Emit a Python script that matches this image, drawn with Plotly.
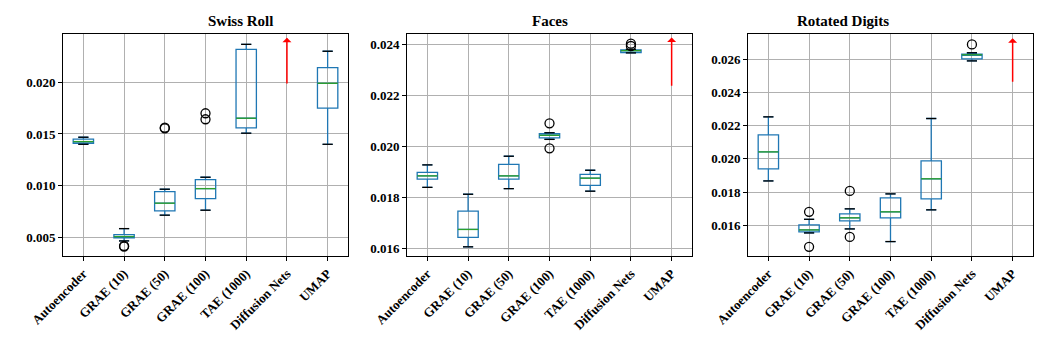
import plotly.graph_objects as go

categories = ["Autoencoder", "GRAE (10)", "GRAE (50)", "GRAE (100)",
              "TAE (1000)", "Diffusion Nets", "UMAP"]

# Swiss Roll (Diffusion Nets off the chart -> arrow)
swiss_lower = [0.01400, 0.00465, 0.00714, 0.00762, 0.01507, None, 0.01400]
swiss_q1 = [0.01410, 0.00494, 0.00755, 0.00874, 0.01558, None, 0.01749]
swiss_median = [0.01426, 0.00507, 0.00830, 0.00971, 0.01652, None, 0.01990]
swiss_q3 = [0.01449, 0.00526, 0.00942, 0.01058, 0.02319, None, 0.02141]
swiss_upper = [0.01468, 0.00584, 0.00965, 0.01081, 0.02367, None, 0.02300]
swiss_out_cat = ["GRAE (10)", "GRAE (10)", "GRAE (50)", "GRAE (50)", "GRAE (100)", "GRAE (100)"]
swiss_out_val = [0.00410, 0.00416, 0.01561, 0.01554, 0.01700, 0.01642]
swiss_arrow = ["Diffusion Nets", 0.01974, 0.02431]

# Faces (UMAP off the chart)
faces_lower = [0.01839, 0.01606, 0.01834, 0.02027, 0.01824, 0.02366, None]
faces_q1 = [0.01871, 0.01643, 0.01871, 0.02033, 0.01847, 0.02367, None]
faces_median = [0.01884, 0.01674, 0.01884, 0.02043, 0.01875, 0.02375, None]
faces_q3 = [0.01898, 0.01746, 0.01929, 0.02049, 0.01890, 0.02378, None]
faces_upper = [0.01927, 0.01812, 0.01961, 0.02053, 0.01906, 0.02380, None]
faces_out_cat = ["GRAE (100)", "GRAE (100)", "Diffusion Nets", "Diffusion Nets"]
faces_out_val = [0.02090, 0.01992, 0.02402, 0.02393]
faces_arrow = ["UMAP", 0.02231, 0.02426]

# Rotated Digits (UMAP off the chart)
rot_lower = [0.01867, 0.01554, 0.01578, 0.01502, 0.01693, 0.02590, None]
rot_q1 = [0.01940, 0.01560, 0.01627, 0.01645, 0.01759, 0.02602, None]
rot_median = [0.02042, 0.01572, 0.01645, 0.01681, 0.01880, 0.02627, None]
rot_q3 = [0.02145, 0.01602, 0.01669, 0.01765, 0.01988, 0.02630, None]
rot_upper = [0.02253, 0.01636, 0.01699, 0.01789, 0.02243, 0.02639, None]
rot_out_cat = ["GRAE (10)", "GRAE (10)", "GRAE (50)", "GRAE (50)", "Diffusion Nets"]
rot_out_val = [0.01681, 0.01470, 0.01807, 0.01530, 0.02689]
rot_arrow = ["UMAP", 0.02455, 0.02726]

panels = [
    ("Swiss Roll", swiss_lower, swiss_q1, swiss_median, swiss_q3, swiss_upper,
     swiss_out_cat, swiss_out_val, swiss_arrow, [0.00319, 0.02467], 0.005),
    ("Faces", faces_lower, faces_q1, faces_median, faces_q3, faces_upper,
     faces_out_cat, faces_out_val, faces_arrow, [0.0157, 0.02440], 0.002),
    ("Rotated Digits", rot_lower, rot_q1, rot_median, rot_q3, rot_upper,
     rot_out_cat, rot_out_val, rot_arrow, [0.01415, 0.02752], 0.002),
]

W, H = 1050, 350
OFF = 8  # page body margin
x_domains = [(63 - OFF, 348 - OFF), (407 - OFF, 692 - OFF), (748 - OFF, 1033 - OFF)]
y_top, y_bot = 34 - OFF, 256 - OFF

FONT = "Liberation Serif, Times New Roman, serif"
BLUE = "#1f77b4"
GREEN = "#2ca02c"

fig = go.Figure()
pos = {c: i + 1 for i, c in enumerate(categories)}

for k, (title, lo, q1, med, q3, up, ocat, oval, arrow, yrange, dtick) in enumerate(panels):
    xa = "x" if k == 0 else f"x{k + 1}"
    ya = "y" if k == 0 else f"y{k + 1}"
    idx = [i for i in range(len(categories)) if med[i] is not None]
    xs = [i + 1 for i in idx]

    fig.add_trace(go.Box(
        x=xs, q1=[q1[i] for i in idx], median=[med[i] for i in idx],
        q3=[q3[i] for i in idx], lowerfence=[lo[i] for i in idx],
        upperfence=[up[i] for i in idx], boxpoints=False, width=0.5,
        whiskerwidth=0.5, line=dict(color=BLUE, width=1.3),
        fillcolor="rgba(0,0,0,0)", xaxis=xa, yaxis=ya, showlegend=False,
        hoverinfo="skip"))

    # green medians, black caps
    mx, my, cx, cy = [], [], [], []
    for i in idx:
        p = i + 1
        mx += [p - 0.25, p + 0.25, None]
        my += [med[i], med[i], None]
        for v in (lo[i], up[i]):
            cx += [p - 0.125, p + 0.125, None]
            cy += [v, v, None]
    fig.add_trace(go.Scatter(x=cx, y=cy, mode="lines", line=dict(color="black", width=1.3),
                             xaxis=xa, yaxis=ya, showlegend=False, hoverinfo="skip"))
    fig.add_trace(go.Scatter(x=mx, y=my, mode="lines", line=dict(color=GREEN, width=1.3),
                             xaxis=xa, yaxis=ya, showlegend=False, hoverinfo="skip"))
    fig.add_trace(go.Scatter(x=[pos[c] for c in ocat], y=oval, mode="markers",
                             marker=dict(symbol="circle-open", size=9, color="black",
                                         line=dict(width=1.3)),
                             xaxis=xa, yaxis=ya, showlegend=False, hoverinfo="skip"))

    ac, a0, a1 = arrow
    fig.add_annotation(x=pos[ac], y=a1, ax=pos[ac], ay=a0, xref=xa, yref=ya,
                       axref=xa, ayref=ya, showarrow=True, arrowhead=1,
                       arrowsize=1, arrowwidth=1.5, arrowcolor="red", text="")

    x0, x1 = x_domains[k]
    axis_common = dict(showline=True, mirror=True, linecolor="black", linewidth=1,
                       ticks="outside", ticklen=4, tickcolor="black",
                       showgrid=True, gridcolor="#b0b0b0", gridwidth=0.8,
                       zeroline=False, automargin=False,
                       tickfont=dict(family=FONT, size=13, color="black", weight="bold"))
    fig.update_layout(**{
        ("xaxis" if k == 0 else f"xaxis{k + 1}"): dict(
            domain=[x0 / W, x1 / W], anchor=ya, range=[0.5, 7.5],
            tickmode="array", tickvals=list(range(1, 8)), ticktext=categories,
            tickangle=-45, **axis_common),
        ("yaxis" if k == 0 else f"yaxis{k + 1}"): dict(
            domain=[(H - y_bot) / H, (H - y_top) / H], anchor=xa, range=yrange,
            dtick=dtick, tickformat=".3f", **axis_common),
    })
    fig.add_annotation(x=(x0 + x1) / 2 / W, y=1 - (21 - OFF) / H, xref="paper", yref="paper",
                       text=f"<b>{title}</b>", showarrow=False, yanchor="middle",
                       font=dict(family=FONT, size=15, color="black"))

fig.update_layout(width=W, height=H, margin=dict(l=0, r=0, t=0, b=0),
                  plot_bgcolor="white", paper_bgcolor="white")

fig.write_html("out.html")
